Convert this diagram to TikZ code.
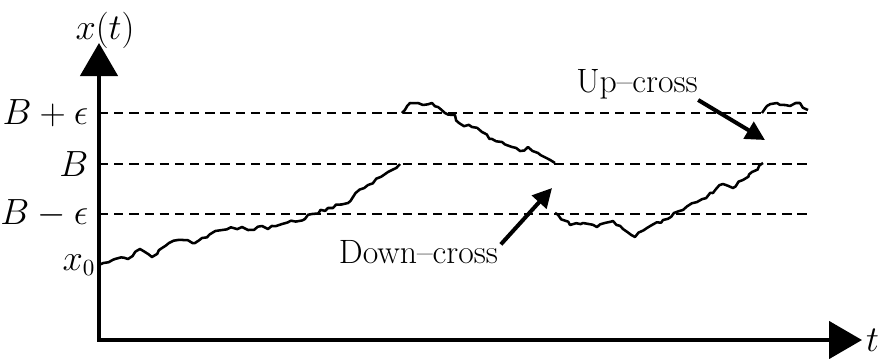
\documentclass[tikz,border=0pt]{standalone}
\usepackage{amsmath,amssymb}
\usepackage{tikz}
\usetikzlibrary{arrows.meta,positioning,decorations.pathmorphing}
\tikzset{
  axisline/.style={line width=1.9pt,line join=miter,
    {Triangle[length=0.55cm,width=0.62cm]}-{Triangle[length=0.55cm,width=0.62cm]}},
  levelline/.style={line width=1.3pt,dash pattern=on 4.4pt off 2.8pt},
  walk/.style={line width=1.2pt,line join=round,decorate,
    decoration={random steps,segment length=0.08cm,amplitude=0.028cm}},
  crossarrow/.style={line width=1.9pt,-{Triangle[length=0.32cm,width=0.32cm]}},
  lbl/.style={inner sep=0pt}
}

\begin{document}
\begin{tikzpicture}[x=1cm,y=1cm,font=\fontsize{16}{19}\selectfont]
\pgfmathsetseed{7}
\useasboundingbox (-1.65,-0.3) rectangle (13.0,5.667);
\coordinate (O) at (0,0);
\coordinate (ytop) at (0,4.95);
\coordinate (xend) at (12.717,0);
\foreach \y/\l/\n in {3.783/{$B+\epsilon$}/hi,2.933/{$B$}/mid,2.1/{$B-\epsilon$}/lo}{
  \node[lbl,anchor=east] (\n) at (-0.17,\y) {\l};
  \draw[levelline] (0,\y) -- (11.883,\y);}
\node[lbl,anchor=east] (xzero) at (-0.05,1.25) {$x_0$};
\draw[axisline] (ytop) -- (O) -- (xend);
\node (xlab) at (0.1,5.167) {$x(t)$};
\node[lbl,anchor=west] (tlab) at (12.78,0) {$t$};
% sample path, four pieces
\draw[walk] (0,1.25) -- (0.267,1.35) -- (0.483,1.35) -- (0.683,1.517) -- (0.883,1.383)
  -- (1.05,1.533) -- (1.317,1.667) -- (1.6,1.617) -- (1.717,1.7) -- (2.05,1.833)
  -- (2.383,1.883) -- (2.483,1.833) -- (2.717,1.9) -- (2.817,1.85) -- (3.05,1.933)
  -- (3.433,2.017) -- (3.55,2.1) -- (3.817,2.2) -- (4.15,2.283) -- (4.233,2.383)
  -- (4.483,2.583) -- (4.65,2.7) -- (4.817,2.8) -- (5.017,2.933);
\draw[walk] (5.05,3.783) -- (5.183,3.95) -- (5.317,3.95) -- (5.4,3.917) -- (5.55,3.95)
  -- (5.65,3.883) -- (5.767,3.783) -- (5.933,3.75) -- (6.0,3.617) -- (6.217,3.55)
  -- (6.383,3.467) -- (6.55,3.35) -- (6.717,3.3) -- (6.883,3.217) -- (7.017,3.15)
  -- (7.15,3.217) -- (7.317,3.117) -- (7.6,2.95);
\draw[walk] (7.6,2.117) -- (7.85,1.917) -- (8.067,1.95) -- (8.3,1.883) -- (8.567,1.983)
  -- (8.733,1.85) -- (8.933,1.717) -- (9.133,1.867) -- (9.4,2.0) -- (9.733,2.167)
  -- (9.967,2.3) -- (10.233,2.45) -- (10.4,2.6) -- (10.567,2.533) -- (10.733,2.667)
  -- (10.883,2.8) -- (11.067,2.95);
\draw[walk] (11.05,3.783) -- (11.133,3.9) -- (11.3,3.95) -- (11.517,3.9) -- (11.683,3.95)
  -- (11.817,3.833);
% crossing labels
\node[lbl,anchor=base] (down) at (5.325,1.283) {Down--cross};
\coordinate (downtip) at (7.55,2.533);
\draw[crossarrow] ([shift={(0.04,-0.08)}]down.north east) -- (downtip);
\node[lbl,anchor=base] (up) at (8.967,4.117) {Up--cross};
\coordinate (uptip) at (11.1,3.333);
\draw[crossarrow] (up.south east) -- (uptip);
\end{tikzpicture}
\end{document}
